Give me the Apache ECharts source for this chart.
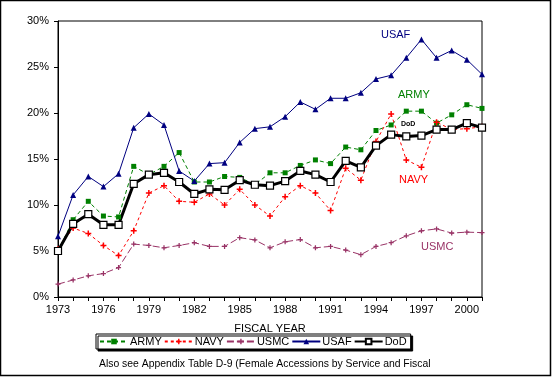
<!DOCTYPE html>
<html>
<head>
<meta charset="utf-8">
<script src="https://cdn.jsdelivr.net/npm/echarts@6/dist/echarts.min.js"></script>
<style>
  html, body { margin: 0; padding: 0; background: #fff; }
  #main { width: 552px; height: 377px; }
</style>
</head>
<body>
<div id="main"></div>
<script>
  // fiscal years 1973 - 2001
  var years = [];
  for (var y = 1973; y <= 2001; y++) years.push(String(y));

  // percent of accessions that are female
  var army = [5.0, 8.4, 10.4, 8.8, 8.7, 14.2, 13.3, 14.2, 15.7, 12.5, 12.5, 13.1, 13.0, 12.2, 13.5,
              13.5, 14.3, 14.9, 14.5, 16.3, 16.0, 18.1, 18.7, 20.2, 20.2, 18.9, 19.8, 20.9, 20.5];
  var navy = [5.2, 7.5, 6.9, 5.6, 4.5, 7.2, 11.3, 12.1, 10.4, 10.3, 11.2, 10.0, 11.7, 10.0, 8.8,
              10.9, 12.1, 11.3, 9.4, 14.0, 12.7, 16.9, 19.9, 14.9, 14.1, 19.0, 18.2, 18.3, 18.5];
  var usmc = [1.4, 1.85, 2.3, 2.55, 3.2, 5.75, 5.6, 5.35, 5.6, 5.9, 5.5, 5.5, 6.45, 6.2, 5.35,
              6.0, 6.25, 5.35, 5.5, 5.1, 4.6, 5.5, 5.9, 6.65, 7.2, 7.4, 6.95, 7.05, 7.0];
  var usaf = [6.6, 11.1, 13.1, 12.0, 13.4, 18.4, 19.9, 18.7, 13.7, 12.6, 14.5, 14.6, 16.8, 18.3, 18.5,
              19.6, 21.2, 20.4, 21.6, 21.6, 22.2, 23.7, 24.1, 26.0, 28.0, 26.0, 26.8, 25.8, 24.2];
  var dod  = [5.0, 7.95, 9.0, 7.85, 7.85, 12.3, 13.3, 13.5, 12.5, 11.2, 11.7, 11.65, 12.7, 12.2, 12.1,
              12.6, 13.7, 13.3, 12.5, 14.8, 14.1, 16.45, 17.65, 17.45, 17.55, 18.2, 18.2, 18.9, 18.4];

  var plusPath = 'path://M3,0H5V3H8V5H5V8H3V5H0V3H3Z';
  var font = 'Liberation Sans, Arial, sans-serif';

  var myChart = echarts.init(document.getElementById('main'));
  var option = {
    animation: false,
    backgroundColor: '#fff',
    textStyle: { fontFamily: font },
    grid: {
      left: 58, right: 70, top: 21, bottom: 80,
      show: true, borderColor: '#000', borderWidth: 1
    },
    legend: {
      bottom: 28,
      left: 96,
      itemWidth: 28,
      itemHeight: 7,
      itemGap: 2,
      padding: [2, 4, 2, 3],
      borderColor: '#000',
      borderWidth: 1,
      backgroundColor: '#fff',
      shadowColor: '#000',
      shadowOffsetX: 2,
      shadowOffsetY: 2,
      shadowBlur: 0,
      textStyle: { color: '#000', fontSize: 11, fontFamily: font, padding: [0, 0, 0, -3] },
      data: ['ARMY', 'NAVY', 'USMC', 'USAF', 'DoD']
    },
    xAxis: {
      type: 'category',
      data: years,
      boundaryGap: false,
      name: 'FISCAL YEAR',
      nameLocation: 'middle',
      nameGap: 26,
      nameTextStyle: { color: '#000', fontSize: 11, fontFamily: font },
      axisLine: { lineStyle: { color: '#000', width: 1 } },
      axisTick: { interval: 0, length: 4, lineStyle: { color: '#000' } },
      axisLabel: { interval: 2, color: '#000', fontSize: 11, margin: 7, fontFamily: font },
      splitLine: { show: false }
    },
    yAxis: {
      type: 'value',
      min: 0, max: 30, interval: 5,
      axisLine: { show: true, lineStyle: { color: '#000', width: 1 } },
      axisTick: { show: true, length: 4, lineStyle: { color: '#000' } },
      axisLabel: { formatter: '{value}%', color: '#000', fontSize: 11, margin: 9, fontFamily: font },
      splitLine: { show: false }
    },
    series: [
      {
        name: 'ARMY', type: 'line', data: army,
        symbol: 'rect', symbolSize: 5,
        lineStyle: { color: '#008000', width: 1, type: [4, 3] },
        itemStyle: { color: '#008000' }
      },
      {
        name: 'NAVY', type: 'line', data: navy,
        symbol: plusPath, symbolSize: 6,
        lineStyle: { color: '#ff0000', width: 1, type: [3, 3] },
        itemStyle: { color: '#ff0000' }
      },
      {
        name: 'USMC', type: 'line', data: usmc,
        symbol: plusPath, symbolSize: 5,
        lineStyle: { color: '#993366', width: 1, type: [7, 3] },
        itemStyle: { color: '#993366' }
      },
      {
        name: 'USAF', type: 'line', data: usaf,
        symbol: 'triangle', symbolSize: 6,
        lineStyle: { color: '#000080', width: 1 },
        itemStyle: { color: '#000080' }
      },
      {
        name: 'DoD', type: 'line', data: dod,
        symbol: 'rect', symbolSize: 7,
        lineStyle: { color: '#000', width: 3 },
        itemStyle: { color: '#fff', borderColor: '#000', borderWidth: 1.2 }
      }
    ],
    graphic: [
      { type: 'rect', shape: { x: 0.5, y: 0.5, width: 550, height: 375 },
        style: { fill: 'none', stroke: '#000', lineWidth: 1.5 }, silent: true },
      { type: 'text', left: 381, top: 29, style: { text: 'USAF', fill: '#000080', font: '11px ' + font } },
      { type: 'text', left: 398, top: 89, style: { text: 'ARMY', fill: '#008000', font: '11px ' + font } },
      { type: 'text', left: 399, top: 174, style: { text: 'NAVY', fill: '#ff0000', font: '11px ' + font } },
      { type: 'text', left: 421, top: 241, style: { text: 'USMC', fill: '#993366', font: '11px ' + font } },
      { type: 'text', left: 401, top: 121, style: { text: 'DoD', fill: '#000', font: 'bold 7px ' + font } },
      { type: 'text', left: 99, top: 359,
        style: { text: 'Also see Appendix Table D-9 (Female Accessions by Service and Fiscal', fill: '#000', font: '10.4px ' + font } }
    ]
  };
  myChart.setOption(option);
</script>
</body>
</html>
